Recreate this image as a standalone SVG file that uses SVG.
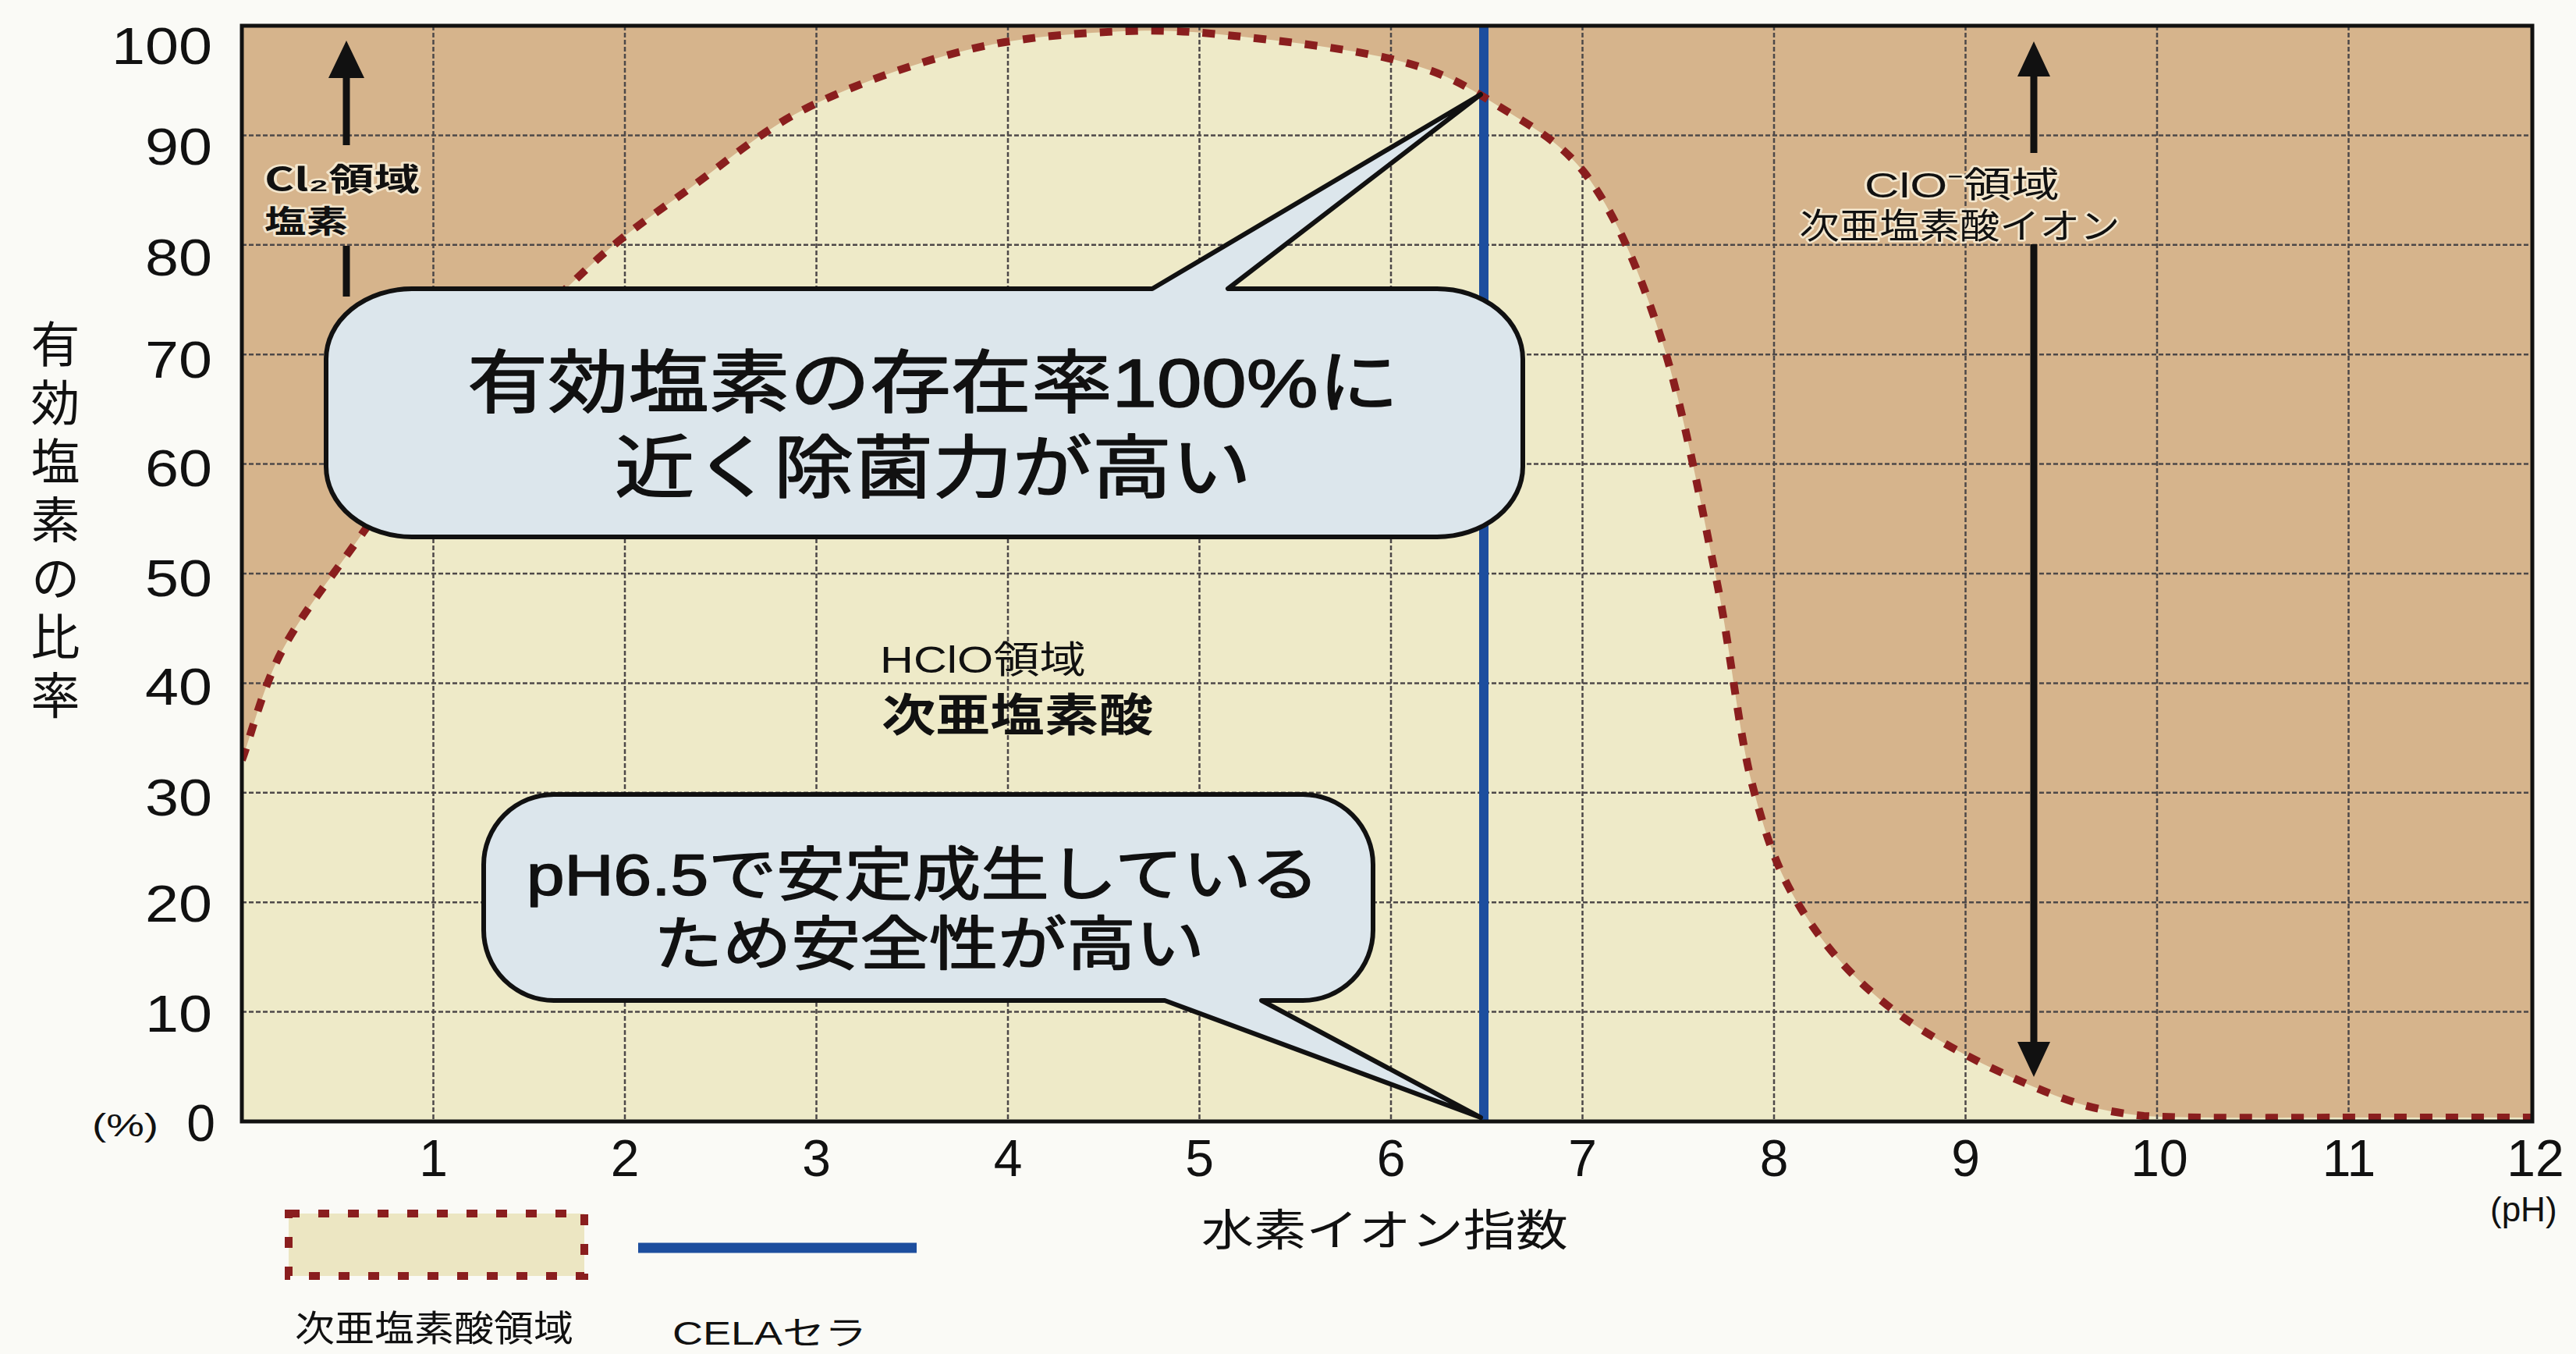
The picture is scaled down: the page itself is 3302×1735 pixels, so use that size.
<svg xmlns="http://www.w3.org/2000/svg" width="3302" height="1735" viewBox="0 0 3302 1735">
  <style>
    .lat { font-family: "Liberation Sans", "Noto Sans CJK JP", sans-serif; fill: #111; }
    .jp { font-family: "Noto Sans CJK JP", "Liberation Sans", sans-serif; fill: #111; }
    .halo { paint-order: stroke; stroke: #fffbe8; stroke-width: 5; stroke-linejoin: round; stroke-opacity: 0.7; }
    .heavy { stroke: #111; stroke-width: 1.6; stroke-linejoin: round; }
    .grid line { stroke: #4d4848; stroke-width: 2.5; stroke-dasharray: 6 3; }
    .curve { fill: none; stroke: #8a1e1e; stroke-width: 10; stroke-dasharray: 16 17; }
    .callout { fill: #dce6ec; stroke: #111; stroke-width: 6; stroke-linejoin: round; }
    .arrow { stroke: #111; stroke-width: 9; }
    .head { fill: #111; }
  </style>
  <defs>
    <clipPath id="plotClip"><rect x="310" y="33" width="2936" height="1404"/></clipPath>
  </defs>

  <rect x="0" y="0" width="3302" height="1735" fill="#fafaf6"/>

  <!-- plot background regions -->
  <g id="plot-area" clip-path="url(#plotClip)">
    <rect x="310" y="33" width="2936" height="1404" fill="#d6b48c"/>
    <path id="hclo-region" fill="#eeeac8" d="M310,1437 L310,974 C319.5,950.5 336.5,880.3 362,833 C387.5,785.7 421.2,744.7 460,690 C498.8,635.3 549.3,563 598,505 C646.7,447 707.3,386.2 755,342 C802.7,297.8 839,274.2 886,240 C933,205.8 977.3,166.5 1037,137 C1096.7,107.5 1176.8,79.2 1244,63 C1311.2,46.8 1380.5,42.5 1440,40 C1499.5,37.5 1541.5,41.5 1601,48 C1660.5,54.5 1744.5,64.8 1797,79 C1849.5,93.2 1875.7,107.5 1916,133 C1956.3,158.5 2003.2,181 2039,232 C2074.8,283 2104.2,354 2131,439 C2157.8,524 2180.8,647.7 2200,742 C2219.2,836.3 2227.8,934.5 2246,1005 C2264.2,1075.5 2279.3,1117.2 2309,1165 C2338.7,1212.8 2376.2,1254.8 2424,1292 C2471.8,1329.2 2542,1365 2596,1388 C2650,1411 2680.7,1422.5 2748,1430 C2800,1433 2917,1432.5 3000,1432 L3246,1432 L3246,1437 Z"/>
  </g>

  <!-- grid -->
  <g id="grid" class="grid">
    <line x1="555.5" y1="33" x2="555.5" y2="1437"/>
    <line x1="801" y1="33" x2="801" y2="1437"/>
    <line x1="1046.5" y1="33" x2="1046.5" y2="1437"/>
    <line x1="1292" y1="33" x2="1292" y2="1437"/>
    <line x1="1537.5" y1="33" x2="1537.5" y2="1437"/>
    <line x1="1783" y1="33" x2="1783" y2="1437"/>
    <line x1="2028.5" y1="33" x2="2028.5" y2="1437"/>
    <line x1="2274" y1="33" x2="2274" y2="1437"/>
    <line x1="2519.5" y1="33" x2="2519.5" y2="1437"/>
    <line x1="2765" y1="33" x2="2765" y2="1437"/>
    <line x1="3010.5" y1="33" x2="3010.5" y2="1437"/>
    <line x1="310" y1="173.4" x2="3246" y2="173.4"/>
    <line x1="310" y1="313.8" x2="3246" y2="313.8"/>
    <line x1="310" y1="454.2" x2="3246" y2="454.2"/>
    <line x1="310" y1="594.6" x2="3246" y2="594.6"/>
    <line x1="310" y1="735" x2="3246" y2="735"/>
    <line x1="310" y1="875.4" x2="3246" y2="875.4"/>
    <line x1="310" y1="1015.8" x2="3246" y2="1015.8"/>
    <line x1="310" y1="1156.2" x2="3246" y2="1156.2"/>
    <line x1="310" y1="1296.6" x2="3246" y2="1296.6"/>
  </g>

  <!-- CELA line at pH 6.5 -->
  <g id="cela-line">
    <line x1="1902" y1="33" x2="1902" y2="1437" stroke="#1d4e9e" stroke-width="12"/>
  </g>

  <!-- HClO region boundary curve -->
  <g id="hclo-curve">
    <path class="curve" clip-path="url(#plotClip)" d="M310,974 C319.5,950.5 336.5,880.3 362,833 C387.5,785.7 421.2,744.7 460,690 C498.8,635.3 549.3,563 598,505 C646.7,447 707.3,386.2 755,342 C802.7,297.8 839,274.2 886,240 C933,205.8 977.3,166.5 1037,137 C1096.7,107.5 1176.8,79.2 1244,63 C1311.2,46.8 1380.5,42.5 1440,40 C1499.5,37.5 1541.5,41.5 1601,48 C1660.5,54.5 1744.5,64.8 1797,79 C1849.5,93.2 1875.7,107.5 1916,133 C1956.3,158.5 2003.2,181 2039,232 C2074.8,283 2104.2,354 2131,439 C2157.8,524 2180.8,647.7 2200,742 C2219.2,836.3 2227.8,934.5 2246,1005 C2264.2,1075.5 2279.3,1117.2 2309,1165 C2338.7,1212.8 2376.2,1254.8 2424,1292 C2471.8,1329.2 2542,1365 2596,1388 C2650,1411 2680.7,1422.5 2748,1430 C2800,1433 2917,1432.5 3000,1432 L3246,1432"/>
  </g>

  <!-- plot frame -->
  <g id="plot-frame">
    <rect x="310" y="33" width="2936" height="1404" fill="none" stroke="#111" stroke-width="5"/>
  </g>

  <!-- connectors: region arrows -->
  <g id="connectors">
    <line class="arrow" x1="444" y1="96" x2="444" y2="186"/>
    <polygon class="head" points="444,52 421,100 467,100"/>
    <line class="arrow" x1="444" y1="315" x2="444" y2="380"/>
    <line class="arrow" x1="2607" y1="94" x2="2607" y2="196"/>
    <polygon class="head" points="2607,53 2586,98 2628,98"/>
    <line class="arrow" x1="2607" y1="313" x2="2607" y2="1340"/>
    <polygon class="head" points="2607,1380 2586,1335 2628,1335"/>
  </g>

  <!-- region labels -->
  <g id="label-cl2">
    <text class="jp halo" font-size="40" font-weight="bold"><tspan x="339" y="244" textLength="199" lengthAdjust="spacingAndGlyphs">Cl₂領域</tspan><tspan x="339" y="298" textLength="107" lengthAdjust="spacingAndGlyphs">塩素</tspan></text>
  </g>
  <g id="label-hclo">
    <text class="lat" x="1128" y="862" font-size="48" textLength="264" lengthAdjust="spacingAndGlyphs">HClO領域</text>
    <text class="jp" x="1130" y="937" font-size="58" font-weight="bold" textLength="348" lengthAdjust="spacingAndGlyphs">次亜塩素酸</text>
  </g>
  <g id="label-clo">
    <text class="lat halo" font-size="45" text-anchor="middle"><tspan x="2515" y="253" textLength="250" lengthAdjust="spacingAndGlyphs">ClO⁻領域</tspan><tspan x="2512" y="306" textLength="411" lengthAdjust="spacingAndGlyphs">次亜塩素酸イオン</tspan></text>
  </g>

  <!-- callout 1 -->
  <g id="callout-1">
    <path class="callout" d="M528,370 L1477,370 L1898,121 L1574,370 L1842,370 A110,90 0 0 1 1952,460 L1952,598 A110,90 0 0 1 1842,688 L528,688 A110,90 0 0 1 418,598 L418,460 A110,90 0 0 1 528,370 Z"/>
    <text class="lat heavy" x="1196" y="521" font-size="88" text-anchor="middle" textLength="1194" lengthAdjust="spacingAndGlyphs">有効塩素の存在率100%に</text>
    <text class="lat heavy" x="1196" y="630" font-size="88" text-anchor="middle" textLength="816" lengthAdjust="spacingAndGlyphs">近く除菌力が高い</text>
  </g>

  <!-- callout 2 -->
  <g id="callout-2">
    <path class="callout" d="M710,1018 L1670,1018 A90,90 0 0 1 1760,1108 L1760,1192 A90,90 0 0 1 1670,1282 L1617,1282 L1898,1432 L1493,1282 L710,1282 A90,90 0 0 1 620,1192 L620,1108 A90,90 0 0 1 710,1018 Z"/>
    <text class="lat heavy" x="1183" y="1147" font-size="75" text-anchor="middle" textLength="1016" lengthAdjust="spacingAndGlyphs">pH6.5で安定成生している</text>
    <text class="lat heavy" x="1191" y="1236" font-size="75" text-anchor="middle" textLength="706" lengthAdjust="spacingAndGlyphs">ため安全性が高い</text>
  </g>

  <!-- y axis -->
  <g id="y-axis">
    <text class="lat" x="272" y="82" font-size="66" text-anchor="end" textLength="129" lengthAdjust="spacingAndGlyphs">100</text>
    <text class="lat" x="272" y="211" font-size="66" text-anchor="end" textLength="86" lengthAdjust="spacingAndGlyphs">90</text>
    <text class="lat" x="272" y="353" font-size="66" text-anchor="end" textLength="86" lengthAdjust="spacingAndGlyphs">80</text>
    <text class="lat" x="272" y="484" font-size="66" text-anchor="end" textLength="86" lengthAdjust="spacingAndGlyphs">70</text>
    <text class="lat" x="272" y="623" font-size="66" text-anchor="end" textLength="86" lengthAdjust="spacingAndGlyphs">60</text>
    <text class="lat" x="272" y="764" font-size="66" text-anchor="end" textLength="86" lengthAdjust="spacingAndGlyphs">50</text>
    <text class="lat" x="272" y="903" font-size="66" text-anchor="end" textLength="86" lengthAdjust="spacingAndGlyphs">40</text>
    <text class="lat" x="272" y="1045" font-size="66" text-anchor="end" textLength="86" lengthAdjust="spacingAndGlyphs">30</text>
    <text class="lat" x="272" y="1181" font-size="66" text-anchor="end" textLength="86" lengthAdjust="spacingAndGlyphs">20</text>
    <text class="lat" x="272" y="1322" font-size="66" text-anchor="end" textLength="86" lengthAdjust="spacingAndGlyphs">10</text>
    <text class="lat" x="276" y="1462" font-size="66" text-anchor="end">0</text>
    <text class="lat" x="118" y="1456" font-size="40" textLength="85" lengthAdjust="spacingAndGlyphs">(%)</text>
    <text class="jp" x="71" y="409" font-size="63" writing-mode="vertical-rl" letter-spacing="12">有効塩素の比率</text>
  </g>

  <!-- x axis -->
  <g id="x-axis">
    <g class="lat" font-size="66" text-anchor="middle">
      <text class="lat" x="555.5" y="1507">1</text>
      <text class="lat" x="801" y="1507">2</text>
      <text class="lat" x="1046.5" y="1507">3</text>
      <text class="lat" x="1292" y="1507">4</text>
      <text class="lat" x="1537.5" y="1507">5</text>
      <text class="lat" x="1783" y="1507">6</text>
      <text class="lat" x="2028.5" y="1507">7</text>
      <text class="lat" x="2274" y="1507">8</text>
      <text class="lat" x="2519.5" y="1507">9</text>
      <text class="lat" x="2768" y="1507">10</text>
      <text class="lat" x="3011" y="1507">11</text>
      <text class="lat" x="3250" y="1507">12</text>
    </g>
    <text class="lat" x="3192" y="1565" font-size="44">(pH)</text>
    <text class="jp" x="1775" y="1596" font-size="56" text-anchor="middle" textLength="470" lengthAdjust="spacingAndGlyphs">水素イオン指数</text>
  </g>

  <!-- legend -->
  <g id="legend-hclo">
    <rect x="370" y="1555" width="379" height="80" fill="#ece6c2" stroke="#8a1e1e" stroke-width="10" stroke-dasharray="14 24"/>
    <text class="jp" x="378" y="1718" font-size="46" textLength="357" lengthAdjust="spacingAndGlyphs">次亜塩素酸領域</text>
  </g>
  <g id="legend-cela">
    <line x1="818" y1="1599" x2="1175" y2="1599" stroke="#1d4e9e" stroke-width="13"/>
    <text class="lat" x="862" y="1723" font-size="42" textLength="249" lengthAdjust="spacingAndGlyphs">CELAセラ</text>
  </g>
</svg>
